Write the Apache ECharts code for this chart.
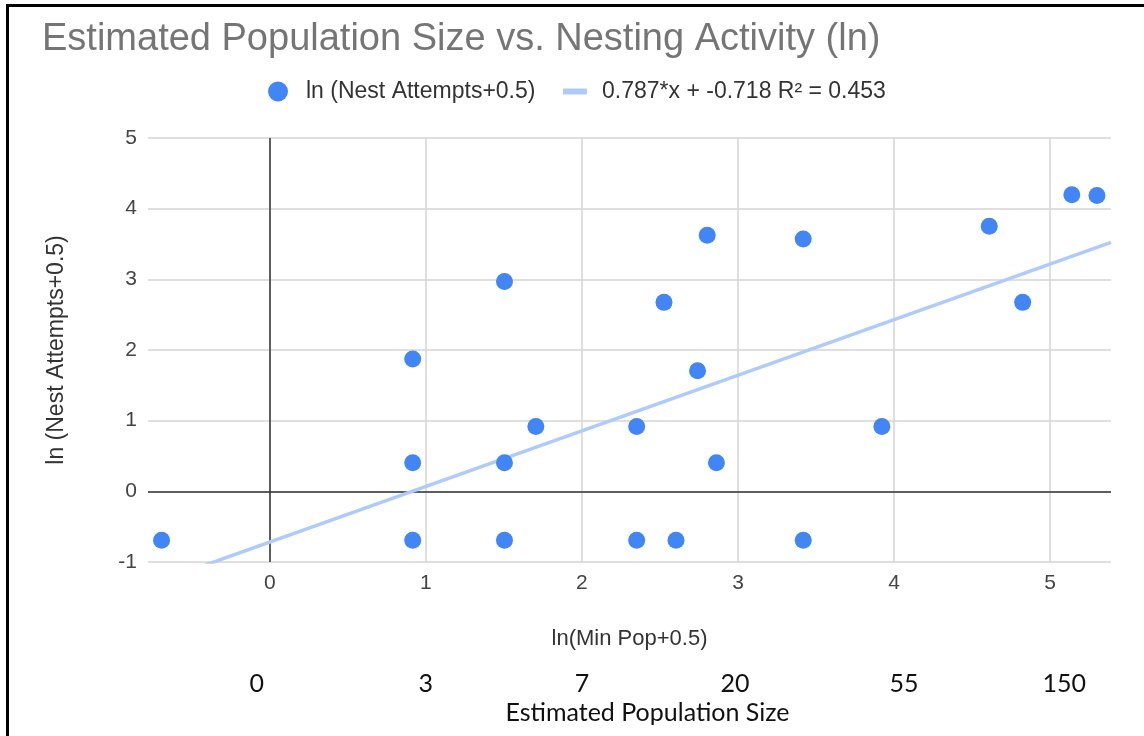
<!DOCTYPE html>
<html>
<head>
<meta charset="utf-8">
<script src="https://cdn.jsdelivr.net/npm/echarts@6/dist/echarts.min.js"></script>
<style>
  html, body { margin: 0; padding: 0; background: #fff; }
  #wrap { position: relative; width: 1144px; height: 736px; overflow: hidden; }
  #chart { position: absolute; left: 0; top: 0; width: 1144px; height: 736px; }
  #frame { position: absolute; left: 6px; top: 4px; right: -10px; bottom: -10px;
           border-left: 3px solid #000; border-top: 3px solid #000; pointer-events: none; }
</style>
</head>
<body>
<div id="wrap"><div id="chart"></div><div id="frame"></div></div>
<script>
// ---- data ----
const lnMinPop = [-0.693, 0.916, 0.916, 0.916, 1.504, 1.504, 1.504, 1.705, 2.351, 2.351, 2.526,
                  2.603, 2.741, 2.803, 2.862, 3.418, 3.418, 3.922, 4.610, 4.824, 5.139, 5.300];
const lnNest   = [-0.693, 1.872, 0.405, -0.693, 2.970, 0.405, -0.693, 0.916, 0.916, -0.693, 2.674,
                  -0.693, 1.705, 3.624, 0.405, 3.570, -0.693, 0.916, 3.750, 2.674, 4.197, 4.185];
const trendSlope = 0.787;
const trendIntercept = -0.718;
const xTickValues = [0, 1, 2, 3, 4, 5];
const yTickValues = [-1, 0, 1, 2, 3, 4, 5];
const popTickLabels = ['0', '3', '7', '20', '55', '150'];
const xMin = -0.78, xMax = 5.39;
const yMin = -1, yMax = 5;

const titleText = 'Estimated Population Size vs. Nesting Activity (ln)';
const seriesName = 'ln (Nest Attempts+0.5)';
const trendName = '0.787*x + -0.718 R² = 0.453';

// ---- build ----
const points = lnMinPop.map((x, i) => [x, lnNest[i]]);
const trendPts = [xMin, xMax].map(x => [x, trendSlope * x + trendIntercept]);
const isTick = v => xTickValues.some(t => Math.abs(t - v) < 1e-6);
const tickIndex = v => xTickValues.findIndex(t => Math.abs(t - v) < 1e-6);

// label nudges for the population labels (style only)
const popRich = {
  p0: { padding: [0, 26, 0, 0] },
  p1: {}, p2: {}, p3: { padding: [0, 6, 0, 0] },
  p4: { padding: [0, 0, 0, 20] },
  p5: { padding: [0, 0, 0, 28] }
};
Object.values(popRich).forEach(s => { s.fontFamily = 'Lato'; s.fontSize = 25; s.color = '#111'; });

const baseFont = 'Arial, "Liberation Sans", sans-serif';

const chart = echarts.init(document.getElementById('chart'), null, { renderer: 'canvas' });
chart.setOption({
  animation: false,
  backgroundColor: '#fff',
  textStyle: { fontFamily: baseFont },
  title: {
    text: titleText, left: 37, top: 16,
    textStyle: { fontFamily: baseFont, fontSize: 38, fontWeight: 'normal', color: '#757575' }
  },
  legend: [
    {
      data: [{ name: seriesName, icon: 'circle' }],
      left: 268, top: 80, padding: 0, itemWidth: 20, itemHeight: 20,
      textStyle: { fontFamily: baseFont, fontSize: 23, color: '#333', padding: [0, 0, 0, 13] }
    },
    {
      data: [{ name: trendName, icon: 'rect' }],
      left: 563, top: 80, padding: 0, itemWidth: 24, itemHeight: 6,
      textStyle: { fontFamily: baseFont, fontSize: 23, color: '#333', padding: [0, 0, 0, 10] }
    }
  ],
  grid: { left: 148, right: 33, top: 138, bottom: 174, containLabel: false, outerBoundsMode: 'none' },
  xAxis: [
    {
      type: 'value', min: xMin, max: xMax, splitNumber: 6,
      name: 'ln(Min Pop+0.5)', nameLocation: 'middle', nameGap: 66,
      nameTextStyle: { fontFamily: baseFont, fontSize: 22, color: '#333' },
      axisLine: { show: false }, axisTick: { show: false },
      axisLabel: {
        margin: 11, fontFamily: baseFont, fontSize: 21, color: '#444',
        showMinLabel: false, showMaxLabel: false,
        formatter: v => isTick(v) ? String(Math.round(v)) : ''
      },
      splitLine: { show: true, showMinLine: false, showMaxLine: false,
                   lineStyle: { color: '#d4d4d4', width: 1.5 } }
    },
    {
      type: 'value', min: xMin, max: xMax, splitNumber: 6, position: 'bottom', offset: 104,
      name: 'Estimated Population Size', nameLocation: 'middle', nameGap: 33,
      nameTextStyle: { fontFamily: 'Lato', fontSize: 25, color: '#111', padding: [0, 0, 0, 36] },
      axisLine: { show: false }, axisTick: { show: false }, splitLine: { show: false },
      axisLabel: {
        margin: 5, showMinLabel: false, showMaxLabel: false,
        rich: popRich,
        formatter: v => { const i = tickIndex(v); return i < 0 ? '' : '{p' + i + '|' + popTickLabels[i] + '}'; }
      }
    }
  ],
  yAxis: {
    type: 'value', min: yMin, max: yMax, interval: 1,
    name: seriesName, nameLocation: 'middle', nameGap: 80,
    nameTextStyle: { fontFamily: baseFont, fontSize: 23, color: '#333' },
    axisLine: { show: false }, axisTick: { show: false },
    axisLabel: { margin: 11, fontFamily: baseFont, fontSize: 21, color: '#444',
                 formatter: v => yTickValues.includes(v) ? String(v) : '' },
    splitLine: { show: true, lineStyle: { color: '#d4d4d4', width: 1.5 } }
  },
  series: [
    {
      name: trendName, type: 'line', xAxisIndex: 0, data: trendPts,
      showSymbol: false, clip: true, silent: true, z: 2,
      color: '#aecbfa',
      lineStyle: { color: '#aecbfa', width: 3.5 },
      itemStyle: { color: '#aecbfa' }
    },
    {
      name: seriesName, type: 'scatter', xAxisIndex: 0, data: points,
      symbolSize: 17, z: 3,
      itemStyle: { color: '#4285f4', opacity: 1 },
      markLine: {
        silent: true, symbol: 'none', label: { show: false }, z: 1,
        lineStyle: { color: '#333', width: 1.5, type: 'solid' },
        emphasis: { disabled: true },
        data: [{ xAxis: 0 }, { yAxis: 0 }]
      }
    }
  ]
});
</script>
</body>
</html>
